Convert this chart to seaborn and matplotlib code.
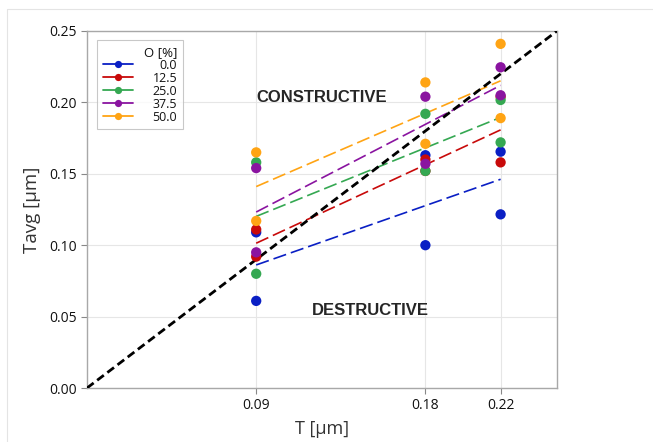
import numpy as np
import pandas as pd
import matplotlib
matplotlib.use("Agg")
import matplotlib.pyplot as plt
from matplotlib.lines import Line2D
import seaborn as sns

# ---- data ----
T_vals = [0.09, 0.09, 0.18, 0.18, 0.22, 0.22]
o_levels = ["0.0", "12.5", "25.0", "37.5", "50.0"]
tavg_0 = [0.109, 0.061, 0.163, 0.100, 0.1655, 0.1216]
tavg_12 = [0.111, 0.092, 0.160, 0.152, 0.158, 0.204]
tavg_25 = [0.158, 0.080, 0.192, 0.152, 0.2017, 0.172]
tavg_37 = [0.154, 0.095, 0.204, 0.157, 0.2246, 0.205]
tavg_50 = [0.165, 0.117, 0.214, 0.171, 0.241, 0.189]
colors = ["#0a1fc4", "#c80a0a", "#35a852", "#8a14a0", "#ffa414"]
x_ticks = [0.09, 0.18, 0.22]
y_ticks = [0.00, 0.05, 0.10, 0.15, 0.20, 0.25]

series = [tavg_0, tavg_12, tavg_25, tavg_37, tavg_50]
rows = []
for lvl, ys in zip(o_levels, series):
    for t, y in zip(T_vals, ys):
        rows.append({"T": t, "Tavg": y, "O": lvl})
df = pd.DataFrame(rows)

sns.set_theme(style="whitegrid")
plt.rcParams["font.family"] = ["Open Sans", "DejaVu Sans"]

fig = plt.figure(figsize=(6.53, 4.42), dpi=100)
ax = fig.add_axes([87/653, 1-388/442, (557-87)/653, (388-31)/442])

# diagonal
ax.plot([0, 0.25], [0, 0.25], color="black", lw=2.0, ls=(0, (3, 1.6)), zorder=3)

for lvl, c in zip(o_levels, colors):
    sub = df[df["O"] == lvl]
    sns.regplot(data=sub, x="T", y="Tavg", ax=ax, ci=None, scatter=False,
                truncate=True,
                line_kws=dict(color=c, lw=1.2, ls=(0, (8, 3)), zorder=2))

sns.scatterplot(data=df, x="T", y="Tavg", hue="O", hue_order=o_levels,
                palette=colors, s=55, edgecolor="none", ax=ax, legend=False,
                zorder=4)

ax.set_xlim(0, 0.25)
ax.set_ylim(0, 0.25)
ax.set_xticks(x_ticks)
ax.set_xticklabels([f"{v:.2f}" for v in x_ticks])
ax.set_yticks(y_ticks)
ax.set_yticklabels([f"{v:.2f}" for v in y_ticks])
ax.set_xlabel("T [µm]", fontsize=13, color="#333333", labelpad=5)
ax.set_ylabel("Tavg [µm]", fontsize=13.5, color="#333333", labelpad=6)
ax.tick_params(axis="both", labelsize=10, colors="#111111", length=4,
               width=0.8, direction="out", color="#888888", left=True, bottom=True)
ax.grid(True, color="#e6e6e6", lw=0.8)
for s in ax.spines.values():
    s.set_color("#a8a8a8")
    s.set_linewidth(1.0)

ax.text(0.125, 0.2035, "CONSTRUCTIVE", ha="center", va="center",
        fontsize=12, fontweight="bold", family=["Liberation Sans", "DejaVu Sans"])
ax.text(0.1505, 0.0545, "DESTRUCTIVE", ha="center", va="center",
        fontsize=12, fontweight="bold", family=["Liberation Sans", "DejaVu Sans"])

handles = [Line2D([0], [0], color=c, lw=1.3, marker="o", markersize=5.2,
                  markeredgewidth=0) for c in colors]
leg = ax.legend(handles, o_levels, title="O [%]", loc="upper left",
                bbox_to_anchor=(10/470, 1-9/357), fontsize=9, title_fontsize=9.5,
                frameon=True, fancybox=False, edgecolor="#bbbbbb",
                handlelength=2.4, handletextpad=1.6, labelspacing=0.0,
                borderpad=0.45, borderaxespad=0.0)
leg.get_frame().set_linewidth(0.8)
leg._legend_box.align = "right"
for t in leg.get_texts():
    t.set_color("#111111")
leg.get_title().set_color("#111111")
fig.canvas.draw()
r = fig.canvas.get_renderer()
texts = leg.get_texts()
widths = [t.get_window_extent(r).width for t in texts]
mw = max(widths)
for t, w in zip(texts, widths):
    t.set_position((mw - w, 0))

# faint outer frame
fig.add_artist(Line2D([7/653, 7/653], [0, 1-9/442], transform=fig.transFigure,
                      color="#e4e4e4", lw=0.8))
fig.add_artist(Line2D([7/653, 1], [1-9/442, 1-9/442], transform=fig.transFigure,
                      color="#e4e4e4", lw=0.8))

fig.savefig("out.png", dpi=100)
